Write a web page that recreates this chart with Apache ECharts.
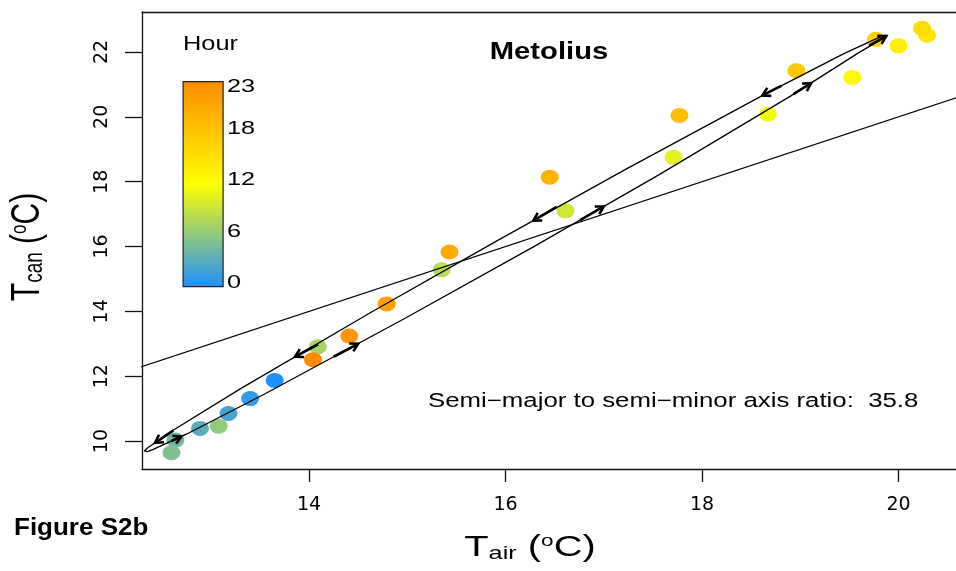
<!DOCTYPE html>
<html><head><meta charset="utf-8">
<script src="https://cdn.jsdelivr.net/npm/echarts@6/dist/echarts.min.js"></script>
<style>html,body{margin:0;padding:0;background:#fff}#c{width:956px;height:571px}</style>
</head><body><div id="c"></div><script>
// ---- data ----
const hours = [0,1,2,3,4,5,6,7,8,9,10,11,12,13,14,15,16,17,18,19,20,21,22,23];
const tAir = [13.65,13.40,13.18,12.89,12.64,12.60,13.08,14.09,15.35,16.61,17.71,18.67,19.53,20.00,20.29,20.24,19.77,18.96,17.77,16.45,15.43,14.79,14.41,14.04];
const tCan = [11.87,11.31,10.85,10.39,10.03,9.64,10.46,12.91,15.28,17.10,18.75,20.08,21.21,22.19,22.52,22.73,22.39,21.42,20.04,18.14,15.83,14.23,13.24,12.51];
// hysteresis ellipse outline (points read along the drawn loop)
const elX = [19.874,19.844,19.786,19.444,18.642,17.222,15.921,14.641,13.304,12.604,12.352,12.324,12.326,12.356,12.414,12.756,13.558,14.978,16.279,17.560,18.896,19.596,19.848,19.876,19.874];
const elY = [22.509,22.494,22.429,21.952,20.702,18.381,16.190,13.987,11.618,10.308,9.777,9.694,9.661,9.676,9.741,10.219,11.468,13.789,15.980,18.210,20.630,21.980,22.430,22.476,22.509];
// 1:1 line end points
const oneX = [12.0, 21.0];
const oneY = [12.0, 21.0];
// direction arrows along the loop: from (x0,y0) to (x1,y1)
const arrX0 = [18.811,16.521,14.092,12.620,12.600,14.250,16.760,18.930,19.700];
const arrY0 = [20.965,17.220,12.985,10.330,10.000,12.600,16.817,20.700,22.200];
const arrX1 = [18.614,16.283,13.858,12.433,12.700,14.500,17.000,19.110,19.875];
const arrY1 = [20.660,16.800,12.600,9.945,10.140,13.000,17.235,21.040,22.490];
// axes
const xTicks = [14,16,18,20];
const yTicks = [10,12,14,16,18,20,22];
const xMin = 12.30, xMax = 20.585;
const yMin = 9.138, yMax = 23.234;
const hourBarLabels = [23,18,12,6,0];
const ratioText = 'Semi\u2212major to semi\u2212minor axis ratio:  35.8';

const chart = echarts.init(document.getElementById('c'));
const pts = tAir.map((x,i)=>[x, tCan[i], hours[i]]);
const el = elX.map((x,i)=>[x, elY[i]]);
const one = oneX.map((x,i)=>[x, oneY[i]]);
const arr = arrX0.map((x,i)=>[x, arrY0[i], arrX1[i], arrY1[i]]);

const F = 'Liberation Sans, Arial, Helvetica, sans-serif';
const AX = '#111';

// colour bar geometry
const cbX = 182.5, cbY = 81, cbW = 40, cbH = 205;
const band = cbH/24;
const graphics = [
  {type:'rect', left: cbX, top: cbY, shape:{x:0,y:0,width:cbW,height:cbH}, z:10,
   style:{stroke:'#222', lineWidth:1.2,
     fill:new echarts.graphic.LinearGradient(0,1,0,0,[
       {offset:0,color:'#1E90FF'},{offset:0.5,color:'#FFFF00'},{offset:1,color:'#FF8C00'}])}},
  {type:'text', x:183, y:44, scaleX:1.27, z:10, style:{text:'Hour', font:'20px '+F, fill:'#000', textAlign:'left', textVerticalAlign:'middle'}},
  {type:'text', x:549, y:53, scaleX:1.27, z:10, style:{text:'Metolius', font:'bold 23px '+F, fill:'#000', textAlign:'center', textVerticalAlign:'middle'}},
  {type:'text', x:428, y:401, scaleX:1.29, z:10, style:{text:ratioText, font:'20px '+F, fill:'#000', textAlign:'left', textVerticalAlign:'middle'}},
  {type:'text', x:14, y:529, scaleX:1.13, z:10, style:{text:'Figure S2b', font:'bold 23px '+F, fill:'#000', textAlign:'left', textVerticalAlign:'middle'}},
  {type:'text', x:530, y:548, scaleX:1.33, z:10, style:{
    text:'{t|T}{s|air}{t| (}{o|o}{t|C)}', textAlign:'center', textVerticalAlign:'middle',
    rich:{t:{fontSize:30, fontFamily:F, lineHeight:30, fill:'#000', verticalAlign:'middle'},
          s:{fontSize:19, fontFamily:F, lineHeight:14, fill:'#000', verticalAlign:'bottom'},
          o:{fontSize:17, fontFamily:F, lineHeight:14, fill:'#000', verticalAlign:'top'}}}},
  {type:'text', x:28, y:247, rotation:Math.PI/2, scaleY:1.33, z:10, style:{
    text:'{t|T}{s|can}{t| (}{o|o}{t|C)}', textAlign:'center', textVerticalAlign:'middle',
    rich:{t:{fontSize:30, fontFamily:F, lineHeight:30, fill:'#000', verticalAlign:'middle'},
          s:{fontSize:19, fontFamily:F, lineHeight:14, fill:'#000', verticalAlign:'bottom'},
          o:{fontSize:17, fontFamily:F, lineHeight:14, fill:'#000', verticalAlign:'top'}}}}
];
hourBarLabels.forEach(h=>{
  graphics.push({type:'text', x:227, y: cbY + cbH - band*(h+0.5) + 1, scaleX:1.33, z:10,
    style:{text:String(h), font:'19px '+F, fill:'#000', textAlign:'left', textVerticalAlign:'middle'}});
});

chart.setOption({
  backgroundColor:'#fff',
  animation:false,
  grid:{left:142, top:12, right:0, bottom:102, show:false},
  xAxis:[{type:'value', min:xMin, max:xMax, position:'bottom',
    axisLine:{show:true, onZero:false, lineStyle:{color:AX, width:1.3}},
    axisTick:{show:true, inside:false, length:13, customValues:xTicks, lineStyle:{color:AX, width:1.3}},
    axisLabel:{customValues:xTicks, margin:27, fontSize:19, fontFamily:'DejaVu Sans', color:'#000'},
    splitLine:{show:false}},
   {type:'value', min:xMin, max:xMax, position:'top',
    axisLine:{show:true, onZero:false, lineStyle:{color:AX, width:1.3}},
    axisTick:{show:false}, axisLabel:{show:false}, splitLine:{show:false}}],
  yAxis:{type:'value', min:yMin, max:yMax,
    axisLine:{show:true, onZero:false, lineStyle:{color:AX, width:1.3}},
    axisTick:{show:true, inside:false, length:17, customValues:yTicks, lineStyle:{color:AX, width:1.3}},
    axisLabel:{customValues:yTicks, rotate:90, margin:30, fontSize:19, fontFamily:'DejaVu Sans', color:'#000'},
    splitLine:{show:false}},
  visualMap:{show:false, type:'continuous', dimension:2, min:0, max:23, seriesIndex:0,
    inRange:{color:['#1E90FF','#FFFF00','#FF8C00']}},
  graphic:graphics,
  series:[
    {type:'scatter', data:pts, symbol:'path://M0,1A1,1 0 1,1 2,1A1,1 0 1,1 0,1Z', symbolSize:[18,15], z:2,
     itemStyle:{opacity:1}},
    {type:'line', data:one, symbol:'none', clip:true, z:3, lineStyle:{color:'#000', width:1.3}},
    {type:'line', data:el, symbol:'none', z:3, lineStyle:{color:'#000', width:1.3}},
    {type:'custom', z:4, data:arr, encode:{x:[0,2], y:[1,3]},
     renderItem:function(params, api){
       const p0 = api.coord([api.value(0), api.value(1)]);
       const p1 = api.coord([api.value(2), api.value(3)]);
       const ang = Math.atan2(p1[1]-p0[1], p1[0]-p0[0]);
       const L = 9, A = Math.PI/6;
       const h1 = [p1[0]-L*Math.cos(ang-A), p1[1]-L*Math.sin(ang-A)];
       const h2 = [p1[0]-L*Math.cos(ang+A), p1[1]-L*Math.sin(ang+A)];
       const st = {stroke:'#000', lineWidth:2.6, fill:null, lineCap:'butt', lineJoin:'miter'};
       return {type:'group', children:[
         {type:'line', shape:{x1:p0[0],y1:p0[1],x2:p1[0],y2:p1[1]}, style:st},
         {type:'polyline', shape:{points:[h1,p1,h2]}, style:st}
       ]};
     }}
  ]
});
</script></body></html>
